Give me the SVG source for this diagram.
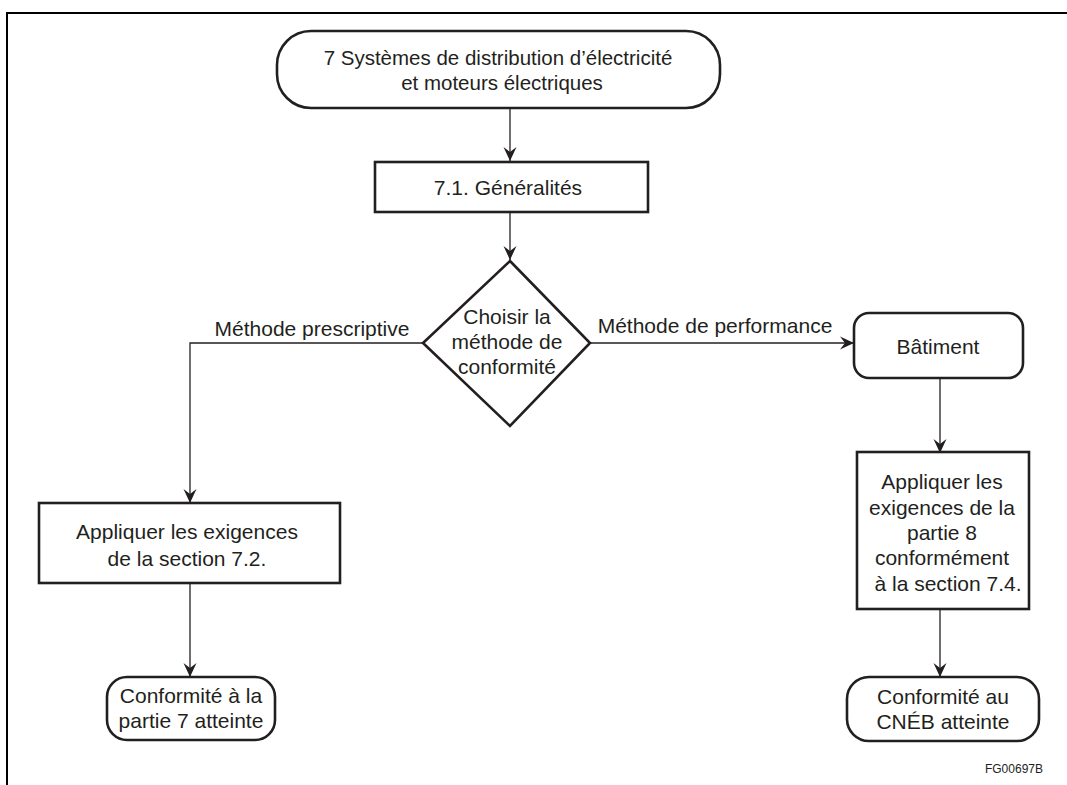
<svg xmlns="http://www.w3.org/2000/svg" width="1067" height="785" viewBox="0 0 1067 785">
  <style>
    .box { fill: #ffffff; stroke: #231f20; stroke-width: 2.6; }
    .edge { fill: none; stroke: #231f20; stroke-width: 1.3; }
    .frame { fill: none; stroke: #000000; stroke-width: 2; }
    text { font-family: "Liberation Sans", Arial, sans-serif; fill: #231f20; text-anchor: middle; }
    .title { font-size: 20.5px; }
    .t { font-size: 21px; }
    .lbl { font-size: 21px; }
    .code { font-size: 12px; text-anchor: end; }
  </style>
  <defs>
    <marker id="arrow" markerUnits="userSpaceOnUse" markerWidth="16" markerHeight="14" refX="0" refY="0" viewBox="-15 -7 16 14" orient="auto" overflow="visible">
      <path d="M0,0 L-14,-6.5 L-9,0 L-14,6.5 Z" fill="#231f20"/>
    </marker>
  </defs>

  <!-- page frame -->
  <path class="frame" d="M7,785 L7,13 L1067,13"/>

  <!-- connectors -->
  <g id="connectors">
    <line class="edge" x1="510" y1="109" x2="510" y2="161" marker-end="url(#arrow)"/>
    <line class="edge" x1="510" y1="213" x2="510" y2="260" marker-end="url(#arrow)"/>
    <polyline class="edge" points="423,343 190,343 190,503" marker-end="url(#arrow)"/>
    <line class="edge" x1="590" y1="343" x2="854" y2="343" marker-end="url(#arrow)"/>
    <line class="edge" x1="940" y1="379" x2="940" y2="453" marker-end="url(#arrow)"/>
    <line class="edge" x1="190" y1="584" x2="190" y2="677" marker-end="url(#arrow)"/>
    <line class="edge" x1="940" y1="610" x2="940" y2="677" marker-end="url(#arrow)"/>
    <text class="lbl" x="312" y="336">Méthode prescriptive</text>
    <text class="lbl" x="715" y="333">Méthode de performance</text>
  </g>

  <!-- start terminator -->
  <g id="start">
    <rect class="box" x="277" y="31" width="443" height="77" rx="34" ry="34"/>
    <text class="title" x="498" y="65">7 Systèmes de distribution d’électricité</text>
    <text class="title" x="502" y="90">et moteurs électriques</text>
  </g>

  <!-- general section -->
  <g id="generalites">
    <rect class="box" x="375" y="162" width="273" height="50"/>
    <text class="t" x="508" y="195">7.1. Généralités</text>
  </g>

  <!-- compliance path decision -->
  <g id="decision">
    <polygon class="box" points="510,261 590,343 510,426 423,343"/>
    <text class="t" x="507" y="324">Choisir la</text>
    <text class="t" x="507" y="349">méthode de</text>
    <text class="t" x="507" y="374">conformité</text>
  </g>

  <!-- performance path -->
  <g id="batiment">
    <rect class="box" x="854" y="313" width="169" height="65" rx="15" ry="15"/>
    <text class="t" x="938" y="354">Bâtiment</text>
  </g>

  <g id="partie8">
    <rect class="box" x="857" y="452" width="172" height="157"/>
    <text class="t" x="942" y="489">Appliquer les</text>
    <text class="t" x="942" y="515">exigences de la</text>
    <text class="t" x="942" y="540">partie 8</text>
    <text class="t" x="942" y="565">conformément</text>
    <text class="t" x="948" y="591">à la section 7.4.</text>
  </g>

  <g id="cneb">
    <rect class="box" x="847" y="677" width="192" height="64" rx="22" ry="22"/>
    <text class="t" x="943" y="704">Conformité au</text>
    <text class="t" x="943" y="729">CNÉB atteinte</text>
  </g>

  <!-- prescriptive path -->
  <g id="section72">
    <rect class="box" x="39" y="503" width="301" height="80"/>
    <text class="t" x="187" y="539">Appliquer les exigences</text>
    <text class="t" x="187" y="566">de la section 7.2.</text>
  </g>

  <g id="partie7">
    <rect class="box" x="107" y="677" width="168" height="63" rx="20" ry="20"/>
    <text class="t" x="191" y="703">Conformité à la</text>
    <text class="t" x="191" y="728">partie 7 atteinte</text>
  </g>

  <text class="code" x="1043" y="773">FG00697B</text>
</svg>
